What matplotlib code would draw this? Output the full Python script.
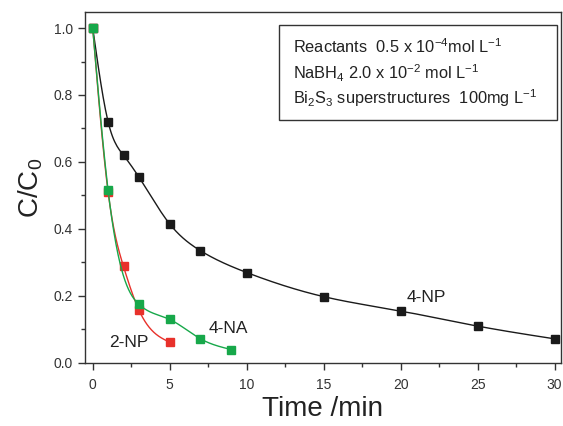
import numpy as np
import matplotlib
matplotlib.use('Agg')
import matplotlib.pyplot as plt
from matplotlib.ticker import MultipleLocator
from matplotlib.patches import Rectangle

plt.rcParams['font.family'] = ['Liberation Sans', 'DejaVu Sans']
plt.rcParams['mathtext.fontset'] = 'custom'
plt.rcParams['mathtext.rm'] = 'Liberation Sans'
plt.rcParams['mathtext.it'] = 'Liberation Sans:italic'

# 读取的数据
t_4np = [0, 1, 2, 3, 5, 7, 10, 15, 20, 25, 30]
c_4np = [1.0, 0.72, 0.62, 0.555, 0.415, 0.335, 0.27, 0.198, 0.155, 0.11, 0.072]
t_2np = [0, 1, 2, 3, 5]
c_2np = [1.0, 0.51, 0.288, 0.158, 0.062]
t_4na = [0, 1, 3, 5, 7, 9]
c_4na = [1.0, 0.515, 0.175, 0.13, 0.072, 0.04]

info_lines = [r'Reactants  0.5 x 10$^{-4}$mol L$^{-1}$',
              r'NaBH$_4$ 2.0 x 10$^{-2}$ mol L$^{-1}$',
              r'Bi$_2$S$_3$ superstructures  100mg L$^{-1}$']


def spline(x, y, xs):
    # 自然三次样条, 画平滑曲线
    x = np.asarray(x, float)
    y = np.asarray(y, float)
    n = len(x)
    h = np.diff(x)
    A = np.zeros((n, n))
    b = np.zeros(n)
    A[0, 0] = A[-1, -1] = 1
    for i in range(1, n - 1):
        A[i, i - 1] = h[i - 1]
        A[i, i] = 2 * (h[i - 1] + h[i])
        A[i, i + 1] = h[i]
        b[i] = 6 * ((y[i + 1] - y[i]) / h[i] - (y[i] - y[i - 1]) / h[i - 1])
    M = np.linalg.solve(A, b)
    idx = np.clip(np.searchsorted(x, xs) - 1, 0, n - 2)
    x0, x1 = x[idx], x[idx + 1]
    hh = h[idx]
    return (M[idx] * (x1 - xs)**3 / (6 * hh) + M[idx + 1] * (xs - x0)**3 / (6 * hh)
            + (y[idx] / hh - M[idx] * hh / 6) * (x1 - xs)
            + (y[idx + 1] / hh - M[idx + 1] * hh / 6) * (xs - x0))


fig = plt.figure(figsize=(5.63, 4.26), dpi=100)
ax = fig.add_axes([0.151, 0.148, 0.845, 0.824])

series = [(t_4np, c_4np, '#1a1a1a'), (t_2np, c_2np, '#e8312b'), (t_4na, c_4na, '#17a84a')]
for t, c, col in series:
    xs = np.linspace(t[0], t[-1], 400)
    ax.plot(xs, spline(t, c, xs), color=col, lw=1.0)
    ax.plot(t, c, 's', color=col, ms=5.3, mec=col)

ax.text(21.7, 0.194, '4-NP', fontsize=12.5, ha='center', va='center', color='#222222')
ax.text(8.8, 0.104, '4-NA', fontsize=12.5, ha='center', va='center', color='#222222')
ax.text(2.35, 0.06, '2-NP', fontsize=12.5, ha='center', va='center', color='#222222')

# 说明框
ax.add_patch(Rectangle((0.4076, 0.692), 0.584, 0.271, transform=ax.transAxes,
                       fc='white', ec='#333333', lw=1.0, zorder=5))
for yy, line in zip([0.900, 0.826, 0.755], info_lines):
    ax.text(0.437, yy, line, transform=ax.transAxes, fontsize=11.8,
            ha='left', va='center', color='#222222', zorder=6)

ax.set_xlim(-0.5, 30.4)
ax.set_ylim(0, 1.048)
ax.xaxis.set_major_locator(MultipleLocator(5))
ax.xaxis.set_minor_locator(MultipleLocator(2.5))
ax.yaxis.set_major_locator(MultipleLocator(0.2))
ax.yaxis.set_minor_locator(MultipleLocator(0.1))
ax.yaxis.set_major_formatter(plt.FuncFormatter(lambda v, p: f'{v:.1f}'))
ax.tick_params(which='both', direction='out', top=False, right=False, labelsize=10,
               colors='#333333', width=1.0)
ax.tick_params(which='major', length=5)
ax.tick_params(which='minor', length=3)
ax.tick_params(axis='x', pad=6)
for s in ax.spines.values():
    s.set_color('#333333')
    s.set_linewidth(1.0)

ax.set_xlabel('Time /min', fontsize=20, color='#222222', labelpad=3)
ax.set_ylabel('C/C$_0$', fontsize=20, color='#222222', labelpad=6)

fig.savefig('out.png', dpi=100)
